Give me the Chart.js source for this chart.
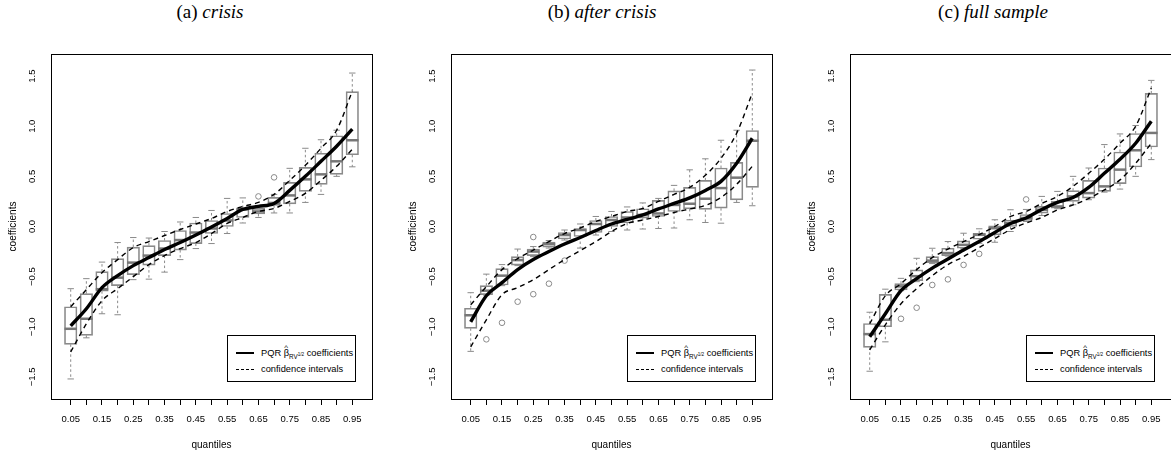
<!DOCTYPE html>
<html lang="en">
<head>
    <meta charset="UTF-8">
    <title>PQR coefficients by quantile</title>
    <script src="https://cdn.jsdelivr.net/npm/chart.js"></script>
    <style>
        body {
            margin: 0;
            width: 1171px;
            height: 455px;
            overflow: hidden;
            position: relative;
            background: #fff;
        }

        .title {
            position: absolute;
            top: 1px;
            font-family: "Liberation Serif", serif;
            font-size: 19px;
            white-space: nowrap;
            transform: translateX(-50%);
        }

        .panel {
            position: absolute;
            top: 0;
            width: 400px;
            height: 455px;
        }

        .panel canvas {
            position: absolute;
            left: 0;
            top: 0;
        }

        /* legend box sits inside the plot, bottom right */
        .legend {
            position: absolute;
            left: 227px;
            top: 335px;
            width: 127px;
            height: 45px;
            border: 1px solid #000;
            background: #fff;
            font-family: "Liberation Sans", Arial, sans-serif;
            font-size: 9.3px;
            color: #000;
        }
        .legend .sample { position: absolute; left: 8px; width: 18px; }
        .legend .solid { top: 16px; height: 2.4px; background: #000; }
        .legend .dashed {
            top: 33px; height: 1.2px;
            background: repeating-linear-gradient(90deg, #000 0 3px, transparent 3px 5px);
        }
        .legend .tx { position: absolute; left: 33px; white-space: nowrap; line-height: 11px; }
        .legend .t1 { top: 12px; }
        .legend .t2 { top: 28px; }
        .beta { position: relative; display: inline-block; }
        .hat { position: absolute; left: 0.5px; top: -6px; font-size: 8px; }
        .sub { font-size: 6.3px; vertical-align: -3px; }
        .sup { font-size: 4.6px; vertical-align: 3px; }
    </style>
</head>
<body>

    <div class="title" style="left:210px">(a) <i>crisis</i></div>
    <div class="title" style="left:602px">(b) <i>after crisis</i></div>
    <div class="title" style="left:993px">(c) <i>full sample</i></div>

    <div class="panel" id="p1" style="left:0px"><canvas id="c1" width="400" height="455"></canvas></div>
    <div class="panel" id="p2" style="left:400px"><canvas id="c2" width="400" height="455"></canvas></div>
    <div class="panel" id="p3" style="left:799px"><canvas id="c3" width="400" height="455"></canvas></div>

    <script>
        const quantiles = [0.05, 0.10, 0.15, 0.20, 0.25, 0.30, 0.35, 0.40, 0.45, 0.50,
                           0.55, 0.60, 0.65, 0.70, 0.75, 0.80, 0.85, 0.90, 0.95];
        const yTicks = [-1.5, -1.0, -0.5, 0.0, 0.5, 1.0, 1.5];

        // (a) crisis
        const crisisLo  = [-1.52, -1.11, -0.87, -0.88, -0.53, -0.525, -0.455, -0.33, -0.22, -0.17, -0.07, 0.035, 0.09, 0.135, 0.135, 0.24, 0.32, 0.50, 0.595];
        const crisisQ1  = [-1.175, -1.085, -0.645, -0.59, -0.48, -0.385, -0.29, -0.235, -0.17, -0.07, 0.0, 0.09, 0.125, 0.21, 0.225, 0.35, 0.42, 0.52, 0.715];
        const crisisMed = [-1.02, -0.92, -0.625, -0.51, -0.36, -0.29, -0.22, -0.135, -0.06, -0.02, 0.06, 0.17, 0.15, 0.235, 0.31, 0.47, 0.52, 0.65, 0.86];
        const crisisQ3  = [-0.80, -0.67, -0.45, -0.32, -0.205, -0.19, -0.14, -0.04, 0.035, 0.06, 0.13, 0.185, 0.18, 0.29, 0.44, 0.59, 0.73, 0.905, 1.345];
        const crisisHi  = [-0.62, -0.52, -0.355, -0.16, -0.11, -0.115, -0.05, 0.045, 0.09, 0.16, 0.28, 0.285, 0.205, 0.32, 0.58, 0.78, 0.865, 0.96, 1.53];
        const crisisOut = [[0.65, 0.30], [0.70, 0.49]];
        const crisisCoef  = [-0.99, -0.82, -0.61, -0.49, -0.39, -0.31, -0.23, -0.16, -0.085, -0.005, 0.08, 0.17, 0.20, 0.23, 0.36, 0.50, 0.65, 0.80, 0.97];
        const crisisUpper = [-0.80, -0.63, -0.46, -0.33, -0.21, -0.15, -0.09, -0.03, 0.025, 0.08, 0.15, 0.20, 0.24, 0.32, 0.46, 0.61, 0.78, 0.96, 1.35];
        const crisisLower = [-1.25, -0.97, -0.74, -0.62, -0.50, -0.38, -0.29, -0.22, -0.16, -0.07, 0.03, 0.09, 0.15, 0.18, 0.25, 0.33, 0.46, 0.60, 0.77];

        // (b) after crisis
        const afterLo  = [-1.245, -0.685, -0.59, -0.39, -0.30, -0.215, -0.135, -0.215, -0.085, -0.05, -0.035, -0.025, -0.02, -0.015, 0.067, 0.04, 0.033, 0.24, 0.207];
        const afterQ1  = [-1.015, -0.68, -0.583, -0.385, -0.29, -0.205, -0.125, -0.10, -0.06, 0.0, 0.035, 0.083, 0.10, 0.15, 0.175, 0.17, 0.183, 0.265, 0.39];
        const afterMed = [-0.885, -0.64, -0.49, -0.335, -0.25, -0.175, -0.085, -0.035, 0.025, 0.065, 0.09, 0.115, 0.13, 0.215, 0.227, 0.277, 0.383, 0.487, 0.855];
        const afterQ3  = [-0.815, -0.59, -0.42, -0.30, -0.225, -0.155, -0.06, -0.02, 0.06, 0.10, 0.15, 0.177, 0.26, 0.355, 0.39, 0.46, 0.583, 0.64, 0.957];
        const afterHi  = [-0.66, -0.475, -0.38, -0.225, -0.20, -0.14, -0.035, 0.025, 0.10, 0.15, 0.195, 0.235, 0.28, 0.41, 0.565, 0.675, 0.86, 0.96, 1.56];
        const afterOut = [[0.10, -1.125], [0.15, -0.96], [0.20, -0.75], [0.25, -0.105], [0.25, -0.675], [0.30, -0.57], [0.35, -0.34]];
        const afterCoef  = [-0.95, -0.69, -0.56, -0.43, -0.33, -0.25, -0.175, -0.11, -0.04, 0.025, 0.07, 0.115, 0.175, 0.23, 0.285, 0.36, 0.45, 0.63, 0.88];
        const afterUpper = [-0.78, -0.60, -0.43, -0.32, -0.235, -0.15, -0.07, -0.015, 0.05, 0.10, 0.15, 0.18, 0.25, 0.32, 0.39, 0.51, 0.68, 0.93, 1.33];
        const afterLower = [-1.20, -0.93, -0.68, -0.61, -0.53, -0.43, -0.33, -0.24, -0.15, -0.05, 0.03, 0.065, 0.10, 0.14, 0.175, 0.21, 0.29, 0.42, 0.60];

        // (c) full sample
        const fullLo  = [-1.443, -1.15, -0.64, -0.55, -0.37, -0.295, -0.22, -0.167, -0.157, -0.05, 0.05, 0.11, 0.177, 0.217, 0.267, 0.343, 0.373, 0.50, 0.667];
        const fullQ1  = [-1.205, -1.0, -0.633, -0.54, -0.36, -0.29, -0.217, -0.127, -0.083, 0.0, 0.06, 0.133, 0.183, 0.25, 0.283, 0.35, 0.427, 0.593, 0.793];
        const fullMed = [-1.073, -0.93, -0.597, -0.495, -0.34, -0.265, -0.183, -0.083, -0.017, 0.035, 0.085, 0.167, 0.20, 0.30, 0.333, 0.40, 0.567, 0.76, 0.933];
        const fullQ3  = [-0.967, -0.677, -0.57, -0.433, -0.30, -0.217, -0.143, -0.067, 0.007, 0.065, 0.12, 0.20, 0.25, 0.357, 0.46, 0.583, 0.743, 0.927, 1.327];
        const fullHi  = [-0.855, -0.625, -0.517, -0.317, -0.217, -0.15, -0.067, -0.023, 0.067, 0.167, 0.17, 0.30, 0.35, 0.50, 0.583, 0.817, 0.923, 1.007, 1.457];
        const fullOut = [[0.15, -0.92], [0.20, -0.81], [0.25, -0.583], [0.30, -0.527], [0.35, -0.383], [0.40, -0.273], [0.55, 0.27]];
        const fullCoef  = [-1.10, -0.87, -0.64, -0.52, -0.415, -0.325, -0.235, -0.15, -0.06, 0.03, 0.085, 0.17, 0.24, 0.29, 0.39, 0.53, 0.67, 0.83, 1.05];
        const fullUpper = [-0.97, -0.69, -0.57, -0.43, -0.31, -0.225, -0.15, -0.08, 0.0, 0.10, 0.15, 0.23, 0.30, 0.40, 0.53, 0.67, 0.83, 1.00, 1.38];
        const fullLower = [-1.23, -0.98, -0.77, -0.62, -0.49, -0.38, -0.30, -0.21, -0.12, -0.03, 0.035, 0.09, 0.165, 0.215, 0.28, 0.365, 0.465, 0.63, 0.83];

        const GRAY = '#8a8a8a';
        const FONT = 'Liberation Sans';

        // box around the plotting region, like R's bty="o"
        const framePlugin = {
            id: 'frame',
            afterDraw(chart) {
                const { ctx, chartArea: a } = chart;
                ctx.save();
                ctx.strokeStyle = '#000';
                ctx.lineWidth = 1;
                ctx.strokeRect(Math.round(a.left) + 0.5, Math.round(a.top) + 0.5,
                               Math.round(a.right - a.left), Math.round(a.bottom - a.top));
                ctx.restore();
            }
        };

        function pts(values) {
            return quantiles.map((q, i) => ({ x: q, y: values[i] }));
        }

        function createPanel(canvasId, lo, q1, med, q3, hi, out, coef, upper, lower) {
            // dashed whiskers: q3 -> upper end, q1 -> lower end, gaps between
            const whiskers = [];
            const caps = [];
            quantiles.forEach((q, i) => {
                whiskers.push({ x: q, y: q3[i] }, { x: q, y: hi[i] }, { x: q, y: null },
                              { x: q, y: q1[i] }, { x: q, y: lo[i] }, { x: q, y: null });
                caps.push({ x: q, y: hi[i] }, { x: q, y: lo[i] });
            });
            const boxes = quantiles.map((q, i) => ({ x: q, y: [q1[i], q3[i]] }));

            return new Chart(document.getElementById(canvasId), {
                type: 'line',
                data: {
                    datasets: [
                        { type: 'line', data: coef, borderColor: '#000', borderWidth: 3.4,
                          pointRadius: 0, cubicInterpolationMode: 'monotone', fill: false, order: 0 },
                        { type: 'line', data: upper, borderColor: '#000', borderWidth: 1.4, borderDash: [5, 4],
                          pointRadius: 0, cubicInterpolationMode: 'monotone', fill: false, order: 1 },
                        { type: 'line', data: lower, borderColor: '#000', borderWidth: 1.4, borderDash: [5, 4],
                          pointRadius: 0, cubicInterpolationMode: 'monotone', fill: false, order: 1 },
                        { type: 'scatter', data: pts(med), pointStyle: 'line', pointRadius: 6.25,
                          borderColor: '#777', borderWidth: 2.5, order: 2 },
                        { type: 'bar', data: boxes, backgroundColor: 'rgba(0,0,0,0)', borderColor: GRAY,
                          borderWidth: 1, borderSkipped: false, barThickness: 12.5, order: 3 },
                        { type: 'scatter', data: caps, pointStyle: 'line', pointRadius: 3.2,
                          borderColor: GRAY, borderWidth: 1, order: 4 },
                        { type: 'line', data: whiskers, borderColor: GRAY, borderWidth: 1, borderDash: [2.5, 2.5],
                          pointRadius: 0, spanGaps: false, fill: false, order: 5 },
                        { type: 'scatter', data: out.map(o => ({ x: o[0], y: o[1] })), pointStyle: 'circle',
                          pointRadius: 2.8, borderColor: GRAY, backgroundColor: 'rgba(0,0,0,0)', borderWidth: 1, order: 6 }
                    ]
                },
                options: {
                    responsive: false,
                    animation: false,
                    events: [],
                    layout: { padding: { top: 54, right: 28, bottom: 0, left: 0 } },
                    plugins: { legend: { display: false }, tooltip: { enabled: false } },
                    scales: {
                        x: {
                            type: 'linear',
                            min: -0.013,
                            max: 1.013,
                            offset: false,
                            afterBuildTicks: s => { s.ticks = quantiles.map(v => ({ value: v })); },
                            afterFit: s => { s.height = 56; },
                            grid: { display: true, drawOnChartArea: false, drawTicks: true, tickLength: 6,
                                    color: '#000', offset: false },
                            border: { display: false },
                            ticks: {
                                autoSkip: false, maxRotation: 0, minRotation: 0, padding: 9,
                                color: '#000', font: { family: FONT, size: 9.5 },
                                // R drops every second label because they would overlap
                                callback: (v, i) => (i % 2 === 0 ? v.toFixed(2) : '')
                            },
                            title: { display: true, text: 'quantiles', color: '#000',
                                     font: { family: FONT, size: 10 }, padding: { top: 0, bottom: 4 } }
                        },
                        y: {
                            type: 'linear',
                            min: -1.72,
                            max: 1.72,
                            beginAtZero: false,
                            afterBuildTicks: s => { s.ticks = yTicks.map(v => ({ value: v })); },
                            afterFit: s => { s.width = 51; },
                            grid: { display: false, drawTicks: false },
                            border: { display: false },
                            ticks: {
                                minRotation: 90, maxRotation: 90, crossAlign: 'center', padding: 9,
                                color: '#000', font: { family: FONT, size: 9.5 },
                                callback: v => (v < 0 ? '\u2212' : '') + Math.abs(v).toFixed(1)
                            },
                            title: { display: true, text: 'coefficients', color: '#000',
                                     font: { family: FONT, size: 10 }, padding: { top: 7, bottom: 0 } }
                        }
                    }
                },
                plugins: [framePlugin]
            });
        }

        createPanel('c1', crisisLo, crisisQ1, crisisMed, crisisQ3, crisisHi, crisisOut,
                    pts(crisisCoef), pts(crisisUpper), pts(crisisLower));
        createPanel('c2', afterLo, afterQ1, afterMed, afterQ3, afterHi, afterOut,
                    pts(afterCoef), pts(afterUpper), pts(afterLower));
        createPanel('c3', fullLo, fullQ1, fullMed, fullQ3, fullHi, fullOut,
                    pts(fullCoef), pts(fullUpper), pts(fullLower));

        // same legend in each panel
        const legendHtml =
            '<span class="sample solid"></span>' +
            '<span class="tx t1">PQR <span class="beta">\u03B2<span class="hat">^</span></span>' +
            '<span class="sub">RV<span class="sup">1/2</span></span> coefficients</span>' +
            '<span class="sample dashed"></span>' +
            '<span class="tx t2">confidence intervals</span>';
        ['p1', 'p2', 'p3'].forEach(id => {
            const box = document.createElement('div');
            box.className = 'legend';
            box.innerHTML = legendHtml;
            document.getElementById(id).appendChild(box);
        });
    </script>
</body>
</html>
